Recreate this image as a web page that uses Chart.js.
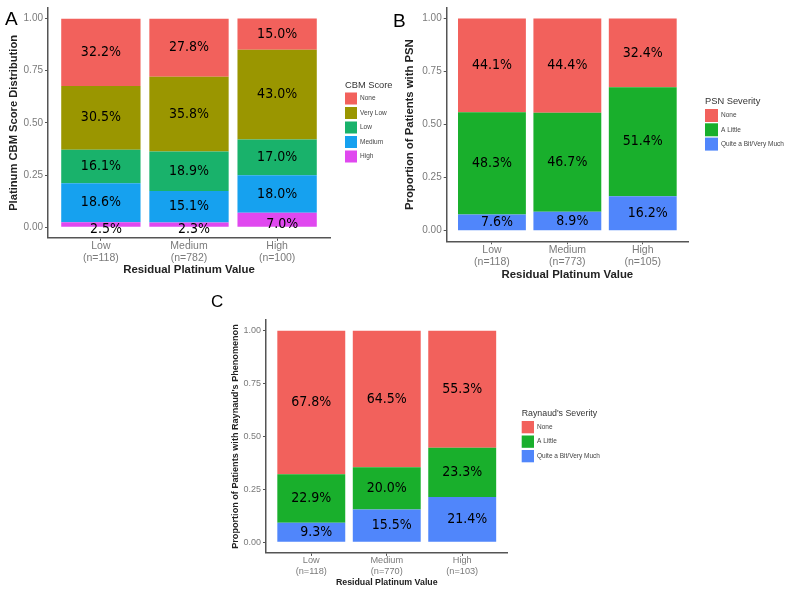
<!DOCTYPE html>
<html>
<head>
<meta charset="utf-8">
<script src="https://cdn.jsdelivr.net/npm/chart.js@4.4.0/dist/chart.umd.min.js"></script>
<style>
  body { margin: 0; background: #fff; width: 800px; height: 592px; position: relative; overflow: hidden; }
  canvas { position: absolute; }
  .panel-letter { position: absolute; color: #000; line-height: 1; font-family: "Liberation Sans", Arial, sans-serif; }
</style>
</head>
<body>
<canvas id="chartA" width="400" height="290" style="left:0;top:0"></canvas>
<canvas id="chartB" width="400" height="290" style="left:400px;top:0"></canvas>
<canvas id="chartC" width="420" height="302" style="left:220px;top:290px"></canvas>
<div class="panel-letter" style="left:5px;top:9px;font-size:19px">A</div>
<div class="panel-letter" style="left:393px;top:11px;font-size:19px">B</div>
<div class="panel-letter" style="left:211px;top:293px;font-size:17px">C</div>

<script>
// Panel A - CBM score distribution (percent)
const cbmCategories = ['Low', 'Medium', 'High'];
const cbmCounts = [118, 782, 100];
const cbmNone = [32.2, 27.8, 15.0];
const cbmVeryLow = [30.5, 35.8, 43.0];
const cbmLow = [16.1, 18.9, 17.0];
const cbmMedium = [18.6, 15.1, 18.0];
const cbmHigh = [2.5, 2.3, 7.0];

// Panel B - PSN severity (percent)
const psnCategories = ['Low', 'Medium', 'High'];
const psnCounts = [118, 773, 105];
const psnNone = [44.1, 44.4, 32.4];
const psnLittle = [48.3, 46.7, 51.4];
const psnQuite = [7.6, 8.9, 16.2];

// Panel C - Raynaud's severity (percent)
const rayCategories = ['Low', 'Medium', 'High'];
const rayCounts = [118, 770, 103];
const rayNone = [67.8, 64.5, 55.3];
const rayLittle = [22.9, 20.0, 23.3];
const rayQuite = [9.3, 15.5, 21.4];

const yTickValues = [0, 0.25, 0.5, 0.75, 1];
const xPositions = [1, 2, 3];

const RED = '#F2615C';
const GREEN = '#19AF2C';
const BLUE = '#5086FB';

// percentage text in the middle of every segment
const segmentLabels = {
    id: 'segmentLabels',
    afterDatasetsDraw(chart, args, opts) {
        const ctx = chart.ctx;
        ctx.save();
        ctx.font = opts.font;
        ctx.fillStyle = '#000';
        ctx.textAlign = 'center';
        ctx.textBaseline = 'middle';
        chart.data.datasets.forEach(function(ds, i) {
            chart.getDatasetMeta(i).data.forEach(function(bar, j) {
                const p = bar.getProps(['x', 'y', 'base'], true);
                let dx = 0, dy = 0;
                if (i === 0) {
                    dx = opts.bottomShift[0];
                    dy = opts.bottomShift[1];
                }
                ctx.fillText(ds.pct[j].toFixed(1) + '%', p.x + dx, (p.y + p.base) / 2 + dy);
            });
        });
        ctx.restore();
    }
};

// ggplot style legend on the right, top item = top segment
const sideLegend = {
    id: 'sideLegend',
    afterDraw(chart, args, opts) {
        const ctx = chart.ctx;
        ctx.save();
        ctx.textAlign = 'left';
        ctx.textBaseline = 'middle';
        ctx.fillStyle = '#333';
        ctx.font = opts.titleFont;
        ctx.fillText(opts.title, opts.x, opts.y);
        const items = chart.data.datasets.slice().reverse();
        items.forEach(function(ds, k) {
            const top = opts.y + opts.firstGap + k * opts.step;
            ctx.fillStyle = ds.backgroundColor;
            ctx.fillRect(opts.x, top, opts.box, opts.box);
            ctx.fillStyle = '#444';
            ctx.font = opts.itemFont;
            ctx.fillText(ds.label, opts.x + opts.box + 3, top + opts.box / 2);
        });
        ctx.restore();
    }
};

function makeDataset(label, pcts, color) {
    return {
        label: label,
        pct: pcts,
        data: pcts.map(function(p, i) { return { x: xPositions[i], y: p / 100 }; }),
        backgroundColor: color,
        barPercentage: 0.9,
        categoryPercentage: 1
    };
}

function makePanel(id, datasets, categories, counts, cfg) {
    const ctx = document.getElementById(id).getContext('2d');
    return new Chart(ctx, {
        type: 'bar',
        data: { datasets: datasets },
        plugins: [segmentLabels, sideLegend],
        options: {
            responsive: false,
            animation: false,
            layout: { padding: { left: 0, top: cfg.top, right: cfg.right, bottom: 0 } },
            plugins: {
                legend: { display: false },
                tooltip: { enabled: false },
                segmentLabels: { font: cfg.labelFont, bottomShift: cfg.bottomShift },
                sideLegend: cfg.legend
            },
            scales: {
                x: {
                    type: 'linear',
                    min: 0.4,
                    max: 3.6,
                    stacked: true,
                    offset: false,
                    afterBuildTicks: function(scale) {
                        scale.ticks = xPositions.map(function(v) { return { value: v }; });
                    },
                    afterFit: function(scale) { scale.height = cfg.xHeight; },
                    grid: { offset: false, drawOnChartArea: false, drawTicks: true, tickLength: 3, color: '#555', lineWidth: 1 },
                    border: { display: true, color: '#555', width: 1.5 },
                    ticks: {
                        autoSkip: false,
                        maxRotation: 0,
                        padding: 0,
                        color: '#7a7a7a',
                        font: { family: 'Liberation Sans', size: cfg.xTickSize, lineHeight: 1.1 },
                        callback: function(value, index) {
                            return [categories[index], '(n=' + counts[index] + ')'];
                        }
                    },
                    title: {
                        display: true,
                        text: 'Residual Platinum Value',
                        color: '#222',
                        font: { family: 'Liberation Sans', size: cfg.titleSize, weight: 'bold', lineHeight: 1.2 },
                        padding: { top: 0, bottom: cfg.xTitlePad }
                    }
                },
                y: {
                    min: -0.05,
                    max: 1.05,
                    stacked: true,
                    afterBuildTicks: function(scale) {
                        scale.ticks = yTickValues.map(function(v) { return { value: v }; });
                    },
                    afterFit: function(scale) { scale.width = cfg.yWidth; },
                    grid: { drawOnChartArea: false, drawTicks: true, tickLength: 3, color: '#555', lineWidth: 1 },
                    border: { display: true, color: '#555', width: 1.5 },
                    ticks: {
                        padding: 2,
                        color: '#7a7a7a',
                        font: { family: 'Liberation Sans', size: cfg.yTickSize },
                        callback: function(value) { return value.toFixed(2); }
                    },
                    title: {
                        display: true,
                        text: cfg.yTitle,
                        color: '#222',
                        font: { family: 'Liberation Sans', size: cfg.yTitleSize, weight: 'bold', lineHeight: 1.2 },
                        padding: { top: cfg.yTitlePad, bottom: 0 }
                    }
                }
            }
        }
    });
}

document.addEventListener('DOMContentLoaded', function() {
    const pctFont = '14px "Liberation Sans Narrow", "DejaVu Sans Condensed", "Liberation Sans", sans-serif';

    makePanel('chartA', [
        makeDataset('High', cbmHigh, '#E048EF'),
        makeDataset('Medium', cbmMedium, '#16A1EF'),
        makeDataset('Low', cbmLow, '#19B26B'),
        makeDataset('Very Low', cbmVeryLow, '#9A9600'),
        makeDataset('None', cbmNone, RED)
    ], cbmCategories, cbmCounts, {
        top: 7.2, right: 70, yWidth: 48, xHeight: 52.2,
        xTickSize: 10.5, yTickSize: 10, titleSize: 11.4, yTitleSize: 11.2,
        yTitle: 'Platinum CBM Score Distribution', yTitlePad: 6.9, xTitlePad: 13.4,
        labelFont: pctFont, bottomShift: [5, 5],
        legend: { title: 'CBM Score', x: 345, y: 85, firstGap: 7.5, step: 14.5, box: 12,
                  titleFont: '9.3px "Liberation Sans"', itemFont: '6.5px "Liberation Sans"' }
    });

    makePanel('chartB', [
        makeDataset('Quite a Bit/Very Much', psnQuite, BLUE),
        makeDataset('A Little', psnLittle, GREEN),
        makeDataset('None', psnNone, RED)
    ], psnCategories, psnCounts, {
        top: 7.7, right: 112, yWidth: 46.7, xHeight: 48.7,
        xTickSize: 10.5, yTickSize: 10, titleSize: 11.4, yTitleSize: 11.3,
        yTitle: 'Proportion of Patients with PSN', yTitlePad: 3.4, xTitlePad: 8.4,
        labelFont: pctFont, bottomShift: [5, 0],
        legend: { title: 'PSN Severity', x: 305, y: 101, firstGap: 8, step: 14.3, box: 13,
                  titleFont: '9.3px "Liberation Sans"', itemFont: '6.5px "Liberation Sans"' }
    });

    makePanel('chartC', [
        makeDataset('Quite a Bit/Very Much', rayQuite, BLUE),
        makeDataset('A Little', rayLittle, GREEN),
        makeDataset('None', rayNone, RED)
    ], rayCategories, rayCounts, {
        top: 30.1, right: 132.5, yWidth: 46, xHeight: 39.1,
        xTickSize: 9.2, yTickSize: 9, titleSize: 8.8, yTitleSize: 9.1,
        yTitle: "Proportion of Patients with Raynaud's Phenomenon", yTitlePad: 9.6, xTitlePad: 3.9,
        labelFont: pctFont, bottomShift: [5, 0],
        legend: { title: "Raynaud's Severity", x: 301.7, y: 123.3, firstGap: 7.7, step: 14.5, box: 12.3,
                  titleFont: '8.8px "Liberation Sans"', itemFont: '6.5px "Liberation Sans"' }
    });
});
</script>
</body>
</html>
